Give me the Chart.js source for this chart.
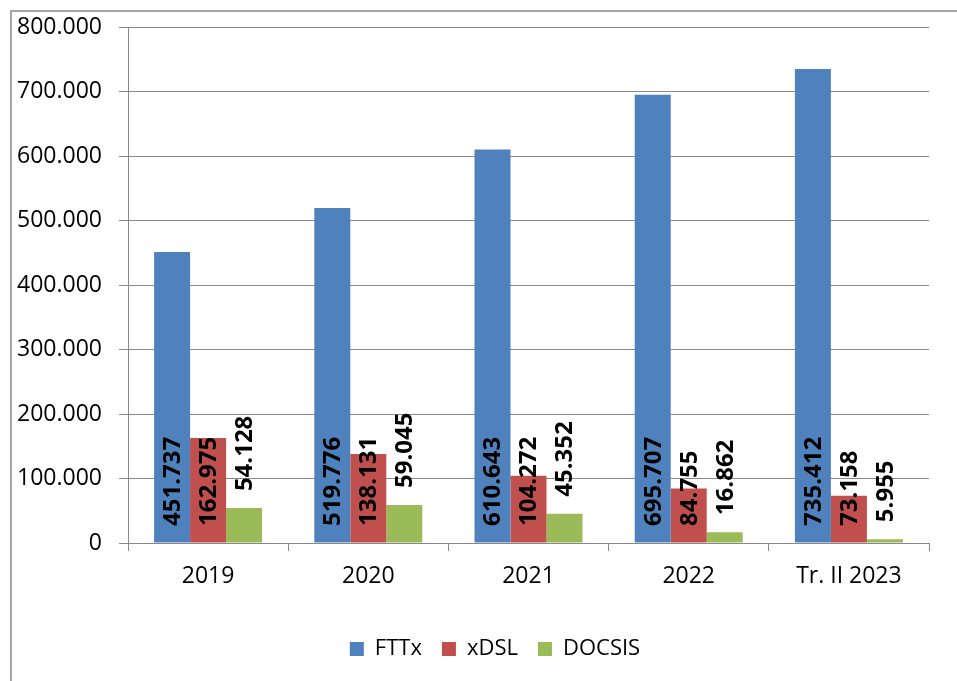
<!DOCTYPE html>
<html>
<head>
<meta charset="utf-8">
<script src="https://cdn.jsdelivr.net/npm/chart.js@4/dist/chart.umd.min.js"></script>
<style>
  html, body { margin: 0; padding: 0; background: #fff; }
  #wrap { width: 957px; height: 681px; position: relative; }
</style>
</head>
<body>
<div id="wrap"><canvas id="chart"></canvas></div>
<script>
// data
const years = ['2019', '2020', '2021', '2022', 'Tr. II 2023'];
const fttx = [451737, 519776, 610643, 695707, 735412];
const xdsl = [162975, 138131, 104272, 84755, 73158];
const docsis = [54128, 59045, 45352, 16862, 5955];

const gridGray = '#898989';

function fmt(v) {
    return String(v).replace(/\B(?=(\d{3})+(?!\d))/g, '.');
}

// outer frame of the chart, only top and left are inside the picture
const frame = {
    id: 'frame',
    beforeDraw(chart) {
        let ctx = chart.ctx;
        ctx.save();
        ctx.strokeStyle = gridGray;
        ctx.lineWidth = 1.5;
        ctx.strokeRect(11, 11, 2000, 2000);
        ctx.restore();
    }
};

// legend is centred on the frame, not on the canvas
const legendShift = {
    id: 'legendShift',
    afterLayout(chart) {
        let lg = chart.legend;
        lg.left = 33;
        lg.right = 957;
        lg.top -= 3;
        lg.bottom -= 3;
    }
};

// rotated value labels: FTTx / xDSL sit at the base, DOCSIS above the bar
const barLabels = {
    id: 'barLabels',
    afterDatasetsDraw(chart) {
        let ctx = chart.ctx;
        let base = chart.scales.y.getPixelForValue(0);
        chart.data.datasets.forEach((ds, i) => {
            chart.getDatasetMeta(i).data.forEach((bar, j) => {
                let y = ds.label === 'DOCSIS' ? bar.y - 17 : base - 17;
                ctx.save();
                ctx.translate(bar.x + 1, y);
                ctx.rotate(-Math.PI / 2);
                ctx.font = 'bold 24px "Open Sans"';
                ctx.fillStyle = '#000';
                ctx.textAlign = 'left';
                ctx.textBaseline = 'middle';
                ctx.fillText(fmt(ds.data[j]), 0, 0);
                ctx.restore();
            });
        });
    }
};

new Chart(document.getElementById('chart').getContext('2d'), {
    type: 'bar',
    data: {
        labels: years,
        datasets: [
            { label: 'FTTx', data: fttx, backgroundColor: '#4F81BD' },
            { label: 'xDSL', data: xdsl, backgroundColor: '#C0504D' },
            { label: 'DOCSIS', data: docsis, backgroundColor: '#9BBB59' }
        ]
    },
    options: {
        responsive: true,
        maintainAspectRatio: false,
        animation: false,
        datasets: {
            bar: { categoryPercentage: 0.674, barPercentage: 1 }
        },
        layout: {
            padding: { top: 27.5, right: 28, left: 0, bottom: 8 }
        },
        plugins: {
            tooltip: { enabled: false },
            legend: {
                position: 'bottom',
                labels: {
                    color: '#000',
                    font: { family: 'Open Sans', size: 22 },
                    boxWidth: 14,
                    boxHeight: 14,
                    padding: 20
                }
            }
        },
        scales: {
            x: {
                afterFit: (scale) => { scale.height = 78; },
                grid: {
                    drawOnChartArea: false,
                    color: gridGray,
                    tickLength: 8,
                    offset: true
                },
                border: { color: gridGray, width: 1 },
                ticks: {
                    color: '#000',
                    font: { family: 'Open Sans', size: 23 },
                    padding: 12,
                    maxRotation: 0
                }
            },
            y: {
                min: 0,
                max: 800000,
                afterFit: (scale) => {
                    scale.width = 128;
                    scale.paddingTop = 0;
                    scale.paddingBottom = 0;
                },
                grid: { color: gridGray, tickLength: 9 },
                border: { color: gridGray, width: 1 },
                ticks: {
                    stepSize: 100000,
                    color: '#000',
                    font: { family: 'Open Sans', size: 23 },
                    padding: 17,
                    callback: (v) => fmt(v)
                }
            }
        }
    },
    plugins: [frame, legendShift, barLabels]
});
</script>
</body>
</html>
